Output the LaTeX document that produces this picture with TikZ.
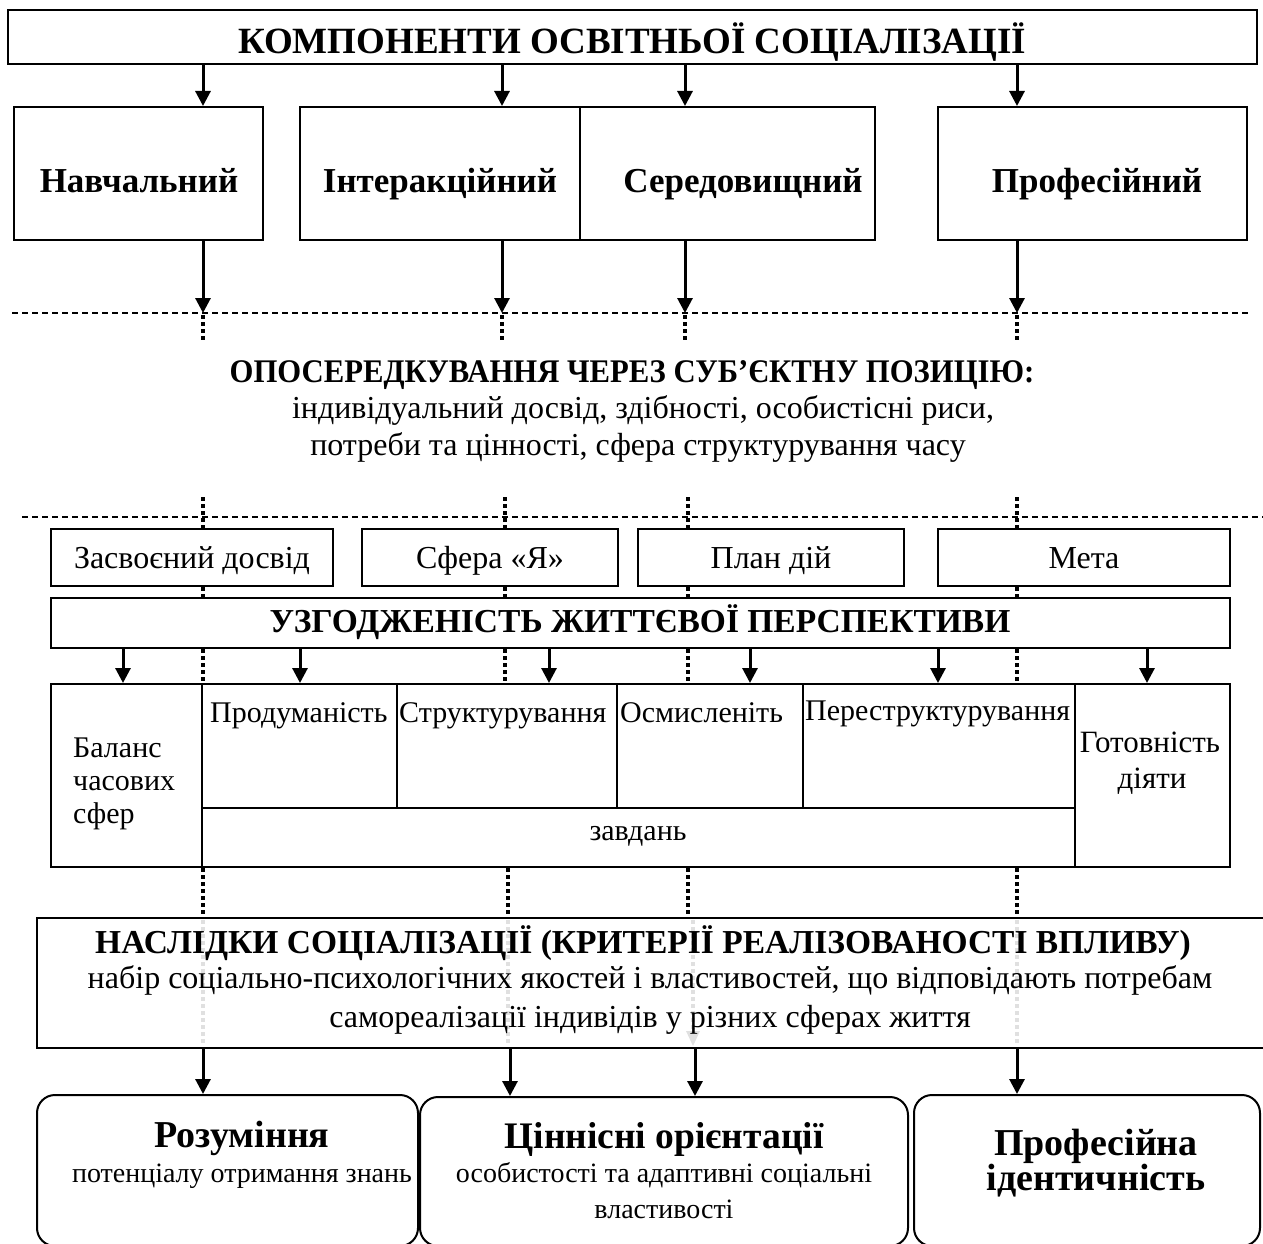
\documentclass[tikz,border=0pt]{standalone}
\usepackage{fontspec}
\setmainfont{Liberation Serif}
\usetikzlibrary{arrows.meta}
\newcommand\fsz[1]{\fontsize{#1}{#1}\selectfont}
\tikzset{
  box/.style={draw, line width=2pt, inner sep=0pt},
  arr/.style={line width=3pt, -{Triangle[length=15pt,width=15pt]}},
  dl/.style={line width=1.3pt, dash pattern=on 6pt off 4pt},
  dots/.style={line width=3.5pt, dash pattern=on 3.5pt off 3.5pt},
  gdots/.style={dots, draw=black!12},
  rbox/.style={draw, line width=2pt, rounded corners=18pt, inner sep=0pt},
  txt/.style={inner sep=0pt, anchor=base},
  ltxt/.style={inner sep=0pt, anchor=base west},
  bt/.style={txt, font=\bfseries\fsz{35}},
  rt/.style={txt, font=\fsz{32}},
  tt/.style={ltxt, font=\fsz{30}},
}
\begin{document}
\begin{tikzpicture}[x=1pt,y=-1pt]
\useasboundingbox (0,0) rectangle (1263,1244);
\clip (0,0) rectangle (1263,1244);
% column coordinates
\coordinate (X1) at (203,0);
\coordinate (X2) at (502,0);
\coordinate (X3) at (685,0);
\coordinate (X4) at (1017,0);
\coordinate (L1) at (0,313);
% top
\node[box, minimum width=1249pt, minimum height=54pt] (top) at (632.5,37) {};
\node[txt, font=\bfseries\fsz{37}] (topT) at (632,54) {КОМПОНЕНТИ ОСВІТНЬОЇ СОЦІАЛІЗАЦІЇ};
% components
\node[box, minimum width=249pt, minimum height=133pt] (nav) at (138.5,173.5) {};
\node[box, minimum width=280pt, minimum height=133pt] (int) at (440,173.5) {};
\node[box, minimum width=295pt, minimum height=133pt] (ser) at (727.5,173.5) {};
\node[box, minimum width=309pt, minimum height=133pt] (prof) at (1092.5,173.5) {};
\node[bt] (navT) at (139,192) {Навчальний};
\node[bt] (intT) at (440,192) {Інтеракційний};
\node[bt] (serT) at (743,192) {Середовищний};
\node[bt] (profT) at (1097,192) {Професійний};
\draw[arr] (X1 |- top.south) -- (X1 |- nav.north);
\draw[arr] (X2 |- top.south) -- (X2 |- int.north);
\draw[arr] (X3 |- top.south) -- (X3 |- ser.north);
\draw[arr] (X4 |- top.south) -- (X4 |- prof.north);
\draw[arr] (X1 |- nav.south) -- (X1 |- L1);
\draw[arr] (X2 |- int.south) -- (X2 |- L1);
\draw[arr] (X3 |- ser.south) -- (X3 |- L1);
\draw[arr] (X4 |- prof.south) -- (X4 |- L1);
% dashed lines
\draw[dl] (12,313) -- (1250,313);
\draw[dl] (22,517) -- (1263,517);
% dotted segments
\foreach \x in {203,502,685,1017} \draw[dots] (\x,315) -- (\x,342);
\foreach \x in {203,505,688,1017} {
  \draw[dots] (\x,497) -- (\x,528);
  \draw[dots] (\x,587) -- (\x,598);
  \draw[dots] (\x,649) -- (\x,684);
}
\foreach \x in {203,508,688,1017} \draw[dots] (\x,868) -- (\x,918);
% mediation text
\node[txt, font=\bfseries\fsz{33}] (medT) at (632,382) {\scalebox{0.93}[1]{ОПОСЕРЕДКУВАННЯ ЧЕРЕЗ СУБ’ЄКТНУ ПОЗИЦІЮ:}};
\node[rt] (med1) at (643,418) {індивідуальний досвід, здібності, особистісні риси,};
\node[rt] (med2) at (638,455) {потреби та цінності, сфера структурування часу};
% row of four boxes
\node[box, minimum width=282pt, minimum height=57pt] (zas) at (192,557.5) {};
\node[box, minimum width=256pt, minimum height=57pt] (sfe) at (490,557.5) {};
\node[box, minimum width=266pt, minimum height=57pt] (pla) at (771,557.5) {};
\node[box, minimum width=292pt, minimum height=57pt] (met) at (1084,557.5) {};
\node[rt] (zasT) at (192,568) {Засвоєний досвід};
\node[rt] (sfeT) at (490,568) {Сфера «Я»};
\node[rt] (plaT) at (771,568) {План дій};
\node[rt] (metT) at (1084,568) {Мета};
% perspective box
\node[box, minimum width=1179pt, minimum height=50pt] (uzg) at (640.5,623) {};
\node[txt, font=\bfseries\fsz{33.5}] (uzgT) at (640,632) {УЗГОДЖЕНІСТЬ ЖИТТЄВОЇ ПЕРСПЕКТИВИ};
% table cells
\node[box, minimum width=151pt, minimum height=183pt] (bal) at (126.5,775.5) {};
\node[box, minimum width=195pt, minimum height=124pt] (prd) at (299.5,746) {};
\node[box, minimum width=220pt, minimum height=124pt] (stc) at (507,746) {};
\node[box, minimum width=186pt, minimum height=124pt] (osm) at (710,746) {};
\node[box, minimum width=272pt, minimum height=124pt] (per) at (939,746) {};
\node[box, minimum width=873pt, minimum height=59pt] (zav) at (638.5,837.5) {};
\node[box, minimum width=155pt, minimum height=183pt] (got) at (1152.5,775.5) {};
\node[tt] (prdT) at (210,722) {Продуманість};
\node[tt] (stcT) at (399,722) {Структурування};
\node[tt] (osmT) at (620,722) {Осмисленіть};
\node[tt] (perT) at (805,720) {Переструктурування};
\node[tt] (balT1) at (73,757) {Баланс};
\node[tt] (balT2) at (73,790) {часових};
\node[tt] (balT3) at (73,823) {сфер};
\node[txt, font=\fsz{31}] (gotT1) at (1150,752) {Готовність};
\node[txt, font=\fsz{31}] (gotT2) at (1152,788) {діяти};
\node[txt, font=\fsz{30}] (zavT) at (638,840) {завдань};
\draw[arr] (123,0 |- uzg.south) -- (123,0 |- bal.north);
\draw[arr] (300,0 |- uzg.south) -- (300,0 |- prd.north);
\draw[arr] (549,0 |- uzg.south) -- (549,0 |- stc.north);
\draw[arr] (750,0 |- uzg.south) -- (750,0 |- osm.north);
\draw[arr] (938,0 |- uzg.south) -- (938,0 |- per.north);
\draw[arr] (1147,0 |- uzg.south) -- (1147,0 |- got.north);
% consequences
\node[box, minimum width=1253pt, minimum height=130pt] (nas) at (663.5,983) {};
\foreach \x in {203,508,1017} \draw[gdots] (\x,920) -- (\x,1046);
\draw[gdots] (693,920) -- (693,1032);
\draw[draw=none, fill=black!12] (686,1031) -- (700,1031) -- (693,1046) -- cycle;
\node[txt, font=\bfseries\fsz{33.5}] (nasT) at (643,953) {НАСЛІДКИ СОЦІАЛІЗАЦІЇ (КРИТЕРІЇ РЕАЛІЗОВАНОСТІ ВПЛИВУ)};
\node[txt, font=\fsz{32}] (nas1) at (650,988) {набір соціально-психологічних якостей і властивостей, що відповідають потребам};
\node[txt, font=\fsz{32}] (nas2) at (650,1027) {самореалізації індивідів у різних сферах життя};
% outcome boxes
\node[rbox, minimum width=381pt, minimum height=151pt] (roz) at (227.5,1170.5) {};
\node[rbox, minimum width=488pt, minimum height=149pt] (cin) at (664,1171.5) {};
\node[rbox, minimum width=346pt, minimum height=151pt] (pid) at (1087,1170.5) {};
\draw[arr] (203,0 |- nas.south) -- (203,0 |- roz.north);
\draw[arr] (510,0 |- nas.south) -- (510,0 |- cin.north);
\draw[arr] (695,0 |- nas.south) -- (695,0 |- cin.north);
\draw[arr] (1017,0 |- nas.south) -- (1017,0 |- pid.north);
\node[txt, font=\bfseries\fsz{38}] (rozT) at (242,1147) {Розуміння};
\node[txt, font=\fsz{28}] (rozS) at (242,1182) {потенціалу отримання знань};
\node[txt, font=\bfseries\fsz{37.5}] (cinT) at (664,1148) {Ціннісні орієнтації};
\node[txt, font=\fsz{28}] (cinS1) at (664,1182) {особистості та адаптивні соціальні};
\node[txt, font=\fsz{28}] (cinS2) at (664,1218) {властивості};
\node[txt, font=\bfseries\fsz{38}] (pidT1) at (1096,1155) {Професійна};
\node[txt, font=\bfseries\fsz{38}] (pidT2) at (1096,1190) {ідентичність};
\end{tikzpicture}
\end{document}
